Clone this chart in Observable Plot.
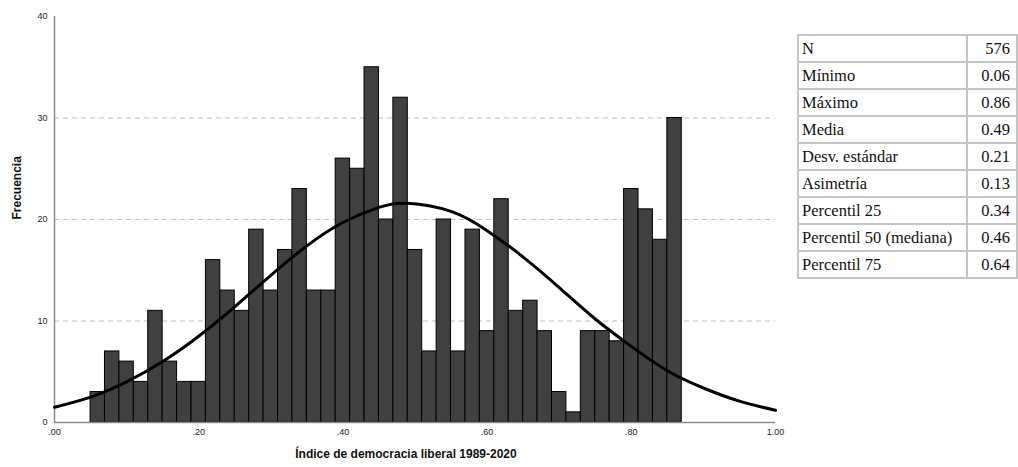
<!DOCTYPE html>
<html>
<head>
<meta charset="utf-8">
<script src="https://cdn.jsdelivr.net/npm/d3@7"></script>
<script src="https://cdn.jsdelivr.net/npm/@observablehq/plot@0.6"></script>
<style>
  html, body { margin: 0; padding: 0; background: #fff; }
  #wrap { position: relative; width: 1018px; height: 467px; overflow: hidden; }
  #chart { position: absolute; left: 0; top: 0; }
  table.stats {
    position: absolute; left: 797px; top: 34px;
    border-collapse: collapse; table-layout: fixed;
    font-family: "Liberation Serif", "Times New Roman", serif;
    font-size: 16.5px; color: #111;
  }
  table.stats td {
    border: 2px solid #c4c4c4;
    height: 25px; padding: 0 3px 0 3px; line-height: 25px;
    white-space: nowrap; box-sizing: border-box;
  }
  table.stats td.lab { width: 170px; }
  table.stats td.val { width: 52px; text-align: right; padding-right: 6px; }
</style>
</head>
<body>
<div id="wrap">
  <div id="chart"></div>
</div>
<script>
// Histogram bins (lower edge of each 0.02-wide bin) and frequencies
const binLower = [0.05,0.07,0.09,0.11,0.13,0.15,0.17,0.19,0.21,0.23,0.25,0.27,0.29,0.31,0.33,0.35,0.37,0.39,0.41,0.43,0.45,0.47,0.49,0.51,0.53,0.55,0.57,0.59,0.61,0.63,0.65,0.67,0.69,0.71,0.73,0.75,0.77,0.79,0.81,0.83,0.85];
const binWidth = 0.02;
const counts = [3,7,6,4,11,6,4,4,16,13,11,19,13,17,23,13,13,26,25,35,20,32,17,7,20,7,19,9,22,11,12,9,3,1,9,9,8,23,21,18,30];

// Normal curve
const curveX = [0,0.05,0.10,0.15,0.20,0.25,0.30,0.35,0.40,0.45,0.49,0.55,0.60,0.65,0.70,0.75,0.80,0.85,0.90,0.95,1.00];
const curveY = [1.5,2.5,4.0,6.0,8.5,11.4,14.5,17.4,19.7,21.2,21.6,20.8,18.9,16.3,13.3,10.2,7.5,5.1,3.4,2.1,1.2];

// Axis ticks
const xTicks = [0,0.2,0.4,0.6,0.8,1.0];
const xTickLabels = [".00",".20",".40",".60",".80","1.00"];
const yTicks = [0,10,20,30,40];
const gridY = [10,20,30];

// Statistics table
const statLabels = ["N","Mínimo","Máximo","Media","Desv. estándar","Asimetría","Percentil 25","Percentil 50 (mediana)","Percentil 75"];
const statValues = ["576","0.06","0.86","0.49","0.21","0.13","0.34","0.46","0.64"];

const xTitle = "Índice de democracia liberal 1989-2020";
const yTitle = "Frecuencia";

const bars = binLower.map((b, i) => ({x1: b, x2: b + binWidth, count: counts[i]}));
const curve = curveX.map((x, i) => ({x, y: curveY[i]}));

const chart = Plot.plot({
  width: 790,
  height: 467,
  marginLeft: 54,
  marginRight: 15,
  marginTop: 16,
  marginBottom: 45,
  style: {fontFamily: "'Liberation Sans', Arial, sans-serif", color: "#222", background: "white"},
  x: {domain: [0, 1]},
  y: {domain: [0, 40]},
  marks: [
    Plot.ruleY(gridY, {stroke: "#bdbdbd", strokeWidth: 1.2, strokeDasharray: "5,4"}),
    Plot.rectY(bars, {x1: "x1", x2: "x2", y: "count", fill: "#404040", stroke: "#000", strokeWidth: 1, inset: 0}),
    Plot.ruleX([0], {stroke: "#8a8a8a", strokeWidth: 1.5}),
    Plot.ruleY([0], {stroke: "#8a8a8a", strokeWidth: 1.5}),
    Plot.line(curve, {x: "x", y: "y", stroke: "#000", strokeWidth: 3, curve: "natural"}),
    Plot.axisY({ticks: yTicks, tickSize: 0, tickPadding: 7, fontSize: 9, label: null}),
    Plot.axisX({ticks: xTicks, tickFormat: (d) => xTickLabels[xTicks.indexOf(d)], tickSize: 0, tickPadding: 6, fontSize: 9, label: null}),
    Plot.text([xTitle], {frameAnchor: "bottom", dy: 35, dx: -9, fontSize: 12, fontWeight: "bold", fill: "#111"}),
    Plot.text([yTitle], {frameAnchor: "left", dx: -37, rotate: -90, fontSize: 12, fontWeight: "bold", fill: "#111"})
  ]
});
document.getElementById("chart").appendChild(chart);

const table = document.createElement("table");
table.className = "stats";
statLabels.forEach((lab, i) => {
  const tr = document.createElement("tr");
  const td1 = document.createElement("td"); td1.className = "lab"; td1.textContent = lab;
  const td2 = document.createElement("td"); td2.className = "val"; td2.textContent = statValues[i];
  tr.appendChild(td1); tr.appendChild(td2);
  table.appendChild(tr);
});
document.getElementById("wrap").appendChild(table);
</script>
</body>
</html>
